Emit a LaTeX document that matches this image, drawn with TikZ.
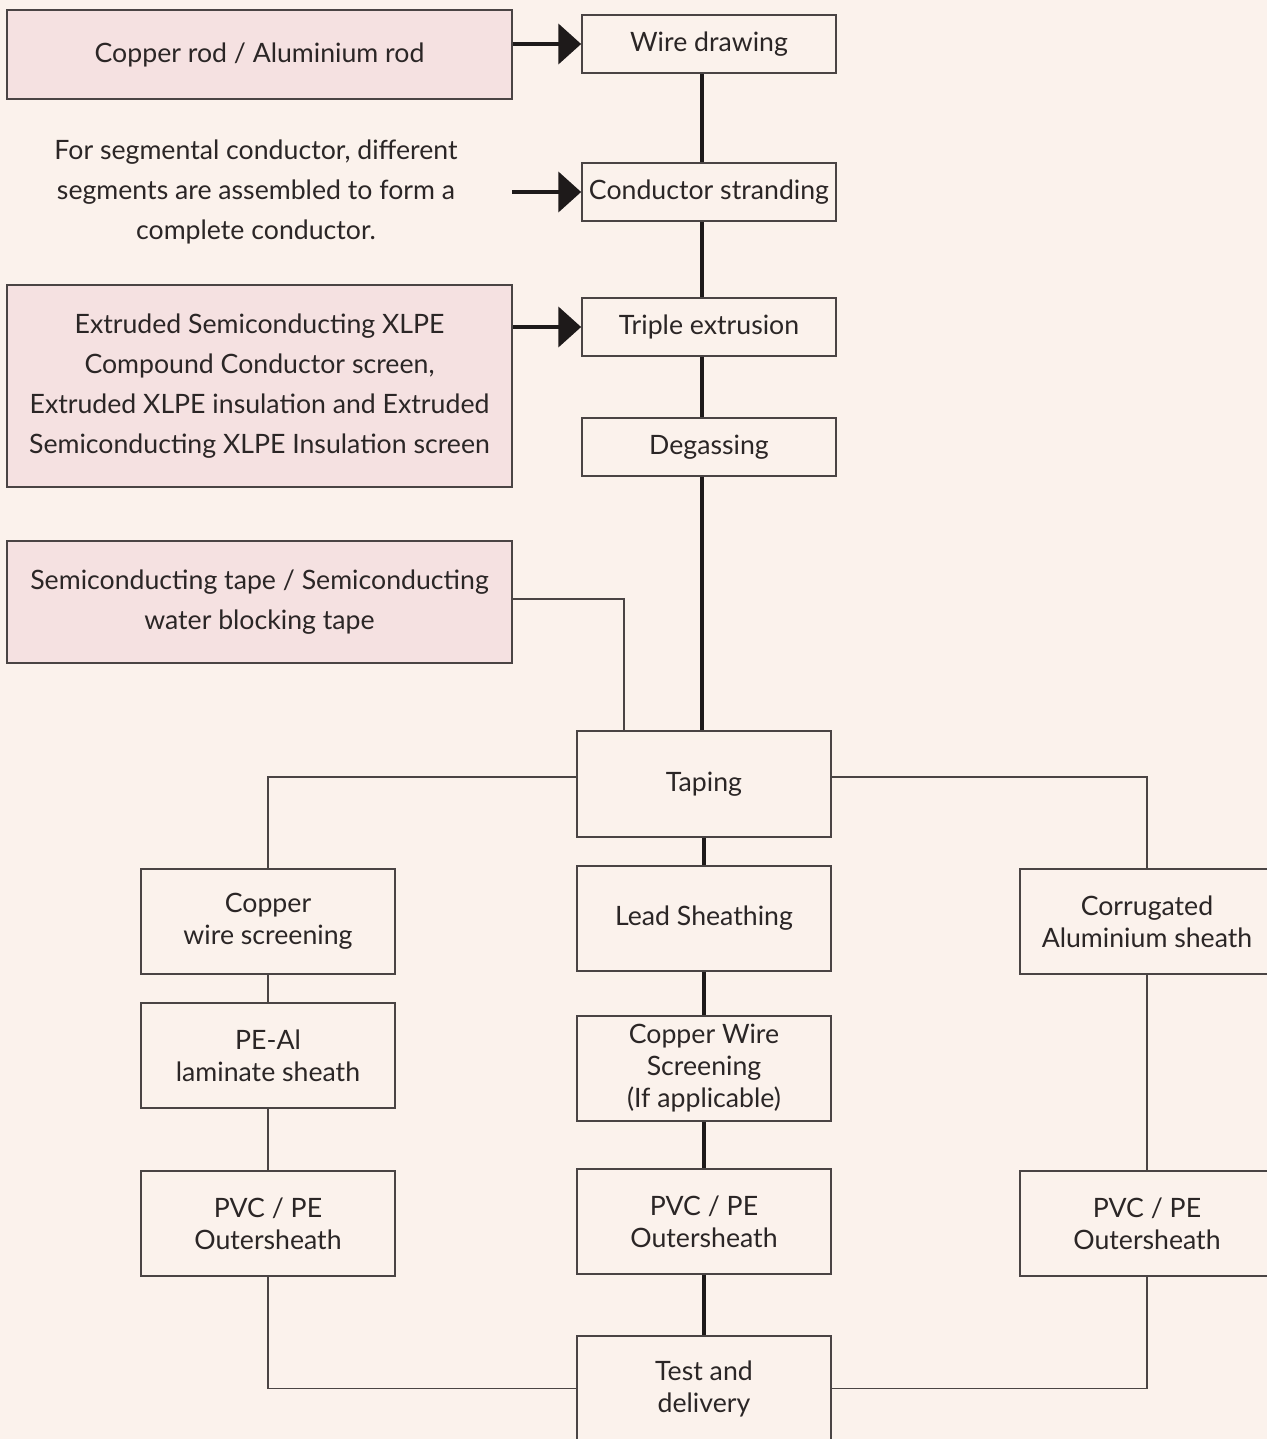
\documentclass[tikz,border=0pt]{standalone}
\usepackage{fontspec}
\setmainfont{Lato}
\usetikzlibrary{arrows.meta}
\definecolor{bgc}{HTML}{FBF2EC}
\definecolor{pinkc}{HTML}{F5E1E1}
\definecolor{bordc}{HTML}{4A4444}
\definecolor{txtc}{HTML}{2B2626}
\definecolor{linec}{HTML}{1E1A1A}
\tikzset{
  box/.style={draw=bordc, line width=1.3pt, fill=bgc, text=txtc, align=center,
    minimum width=190.5pt, inner sep=0pt, font=\fontsize{20}{24}\selectfont},
  srcbox/.style={draw=bordc, line width=1.3pt, fill=pinkc, text=txtc, align=center,
    minimum width=378.75pt, inner sep=0pt, font=\fontsize{20}{30}\selectfont},
  plain/.style={text=txtc, align=center, inner sep=0pt, font=\fontsize{20}{30}\selectfont},
  trunkline/.style={draw=linec, line width=2.5pt},
  thinline/.style={draw=bordc, line width=1.3pt},
  feed/.style={draw=linec, line width=2.5pt, -{Triangle[length=17pt, width=30pt]}},
}
\begin{document}
\begin{tikzpicture}[x=0.75pt,y=-0.75pt]
\useasboundingbox (0,0) rectangle (1267,1439);
\begin{scope}
\clip (0,0) rectangle (1267,1439);
\fill[bgc] (0,0) rectangle (1267,1439);

% left source boxes
\node[srcbox, minimum height=66.75pt] (rod) at (259.5,54.5) {Copper rod / Aluminium rod};
\node[plain] (seg) at (256,192) {For segmental conductor, different\\segments are assembled to form a\\complete conductor.};
\node[srcbox, minimum height=151.5pt] (extr) at (259.5,386) {Extruded Semiconducting XLPE\\Compound Conductor screen,\\Extruded XLPE insulation and Extruded\\Semiconducting XLPE Insulation screen};
\node[srcbox, minimum height=91.5pt] (tape) at (259.5,602) {Semiconducting tape / Semiconducting\\water blocking tape};

% main column
\node[box, minimum height=43.5pt] (wire) at (709,44) {Wire drawing};
\node[box, minimum height=43.5pt] (strand) at (709,192) {Conductor stranding};
\node[box, minimum height=43.5pt] (triple) at (709,327) {Triple extrusion};
\node[box, minimum height=43.5pt] (degas) at (709,447) {Degassing};
\node[box, minimum height=79.5pt] (taping) at (704,784) {Taping};

% three branches
\node[box, minimum height=78.75pt] (cws) at (268,921.5) {Copper\\wire screening};
\node[box, minimum height=78.75pt] (peal) at (268,1055.5) {PE-Al\\laminate sheath};
\node[box, minimum height=78.75pt] (pvcL) at (268,1223.5) {PVC / PE\\Outersheath};

\node[box, minimum height=78.75pt] (lead) at (704,918.5) {Lead Sheathing};
\node[box, minimum height=78.75pt] (cwsc) at (704,1068.5) {Copper Wire\\Screening\\(If applicable)};
\node[box, minimum height=78.75pt] (pvcC) at (704,1221.5) {PVC / PE\\Outersheath};

\node[box, minimum height=78.75pt] (corr) at (1147,921.5) {Corrugated\\Aluminium sheath};
\node[box, minimum height=78.75pt] (pvcR) at (1147,1223.5) {PVC / PE\\Outersheath};

\node[box, minimum height=78.75pt] (test) at (704,1388.5) {Test and\\delivery};

% coordinates
\coordinate (trunk) at (702,0);
\coordinate (segend) at (512,192);
\coordinate (tapex) at (624,0);

% feed arrows
\draw[feed] (rod.east |- wire.west) -- (wire.west);
\draw[feed] (segend) -- (strand.west);
\draw[feed] (extr.east |- triple.west) -- (triple.west);

% trunk
\draw[trunkline] (wire.south -| trunk) -- (strand.north -| trunk);
\draw[trunkline] (strand.south -| trunk) -- (triple.north -| trunk);
\draw[trunkline] (triple.south -| trunk) -- (degas.north -| trunk);
\draw[trunkline] (degas.south -| trunk) -- (taping.north -| trunk);
\draw[thinline] (tape.east) ++(0,-3) -| (taping.north -| tapex);

% branches from taping
\draw[thinline] ([yshift=5.25pt]taping.west) -| (cws.north);
\draw[thinline] ([yshift=5.25pt]taping.east) -| (corr.north);

% center column
\draw[trunkline] (taping.south) -- (lead.north);
\draw[trunkline] (lead.south) -- (cwsc.north);
\draw[trunkline] (cwsc.south) -- (pvcC.north);
\draw[trunkline] (pvcC.south) -- (test.north);

% left column
\draw[thinline] (cws.south) -- (peal.north);
\draw[thinline] (peal.south) -- (pvcL.north);
\draw[thinline] (pvcL.south) |- (test.west);

% right column
\draw[thinline] (corr.south) -- (pvcR.north);
\draw[thinline] (pvcR.south) |- (test.east);
\end{scope}
\end{tikzpicture}
\end{document}
